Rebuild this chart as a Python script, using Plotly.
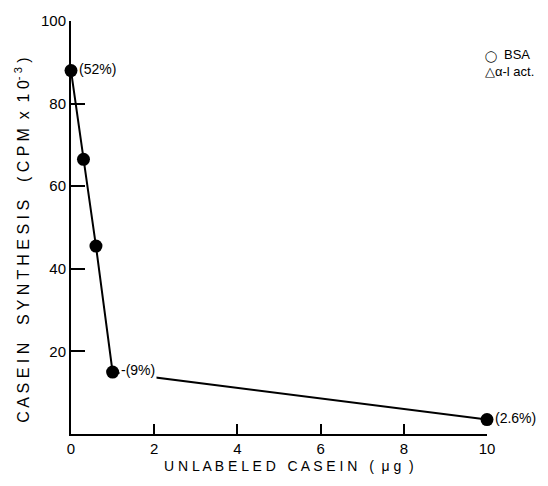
import plotly.graph_objects as go

x_ug = [0, 0.3, 0.6, 1.0, 10]
y_cpm = [88, 66.5, 45.5, 15, 3.5]
pct_labels = ["(52%)", "", "", "-(9%)", "(2.6%)"]
x_ticks = [0, 2, 4, 6, 8, 10]
y_ticks = [20, 40, 60, 80, 100]

FONT = "Liberation Sans, Arial, sans-serif"

fig = go.Figure()
fig.add_trace(go.Scatter(
    x=x_ug, y=y_cpm, mode="lines+markers",
    line=dict(color="black", width=2),
    marker=dict(color="black", size=13),
    cliponaxis=False, showlegend=False,
))

for xv, yv, t in zip(x_ug, y_cpm, pct_labels):
    if t:
        fig.add_annotation(x=xv, y=yv, text=t, showarrow=False, xanchor="left",
                           xshift=6, yshift=2,
                           bgcolor="white" if t == "-(9%)" else "rgba(0,0,0,0)",
                           font=dict(family=FONT, size=14, color="black"))

# key (symbols stacked at left, labels to the right)
fig.add_annotation(xref="paper", yref="paper", x=0.99, y=0.913, xanchor="left", yanchor="middle",
                   text="◯", showarrow=False, font=dict(family="DejaVu Sans", size=11, color="black"))
fig.add_annotation(xref="paper", yref="paper", x=1.035, y=0.918, xanchor="left", yanchor="middle",
                   text="BSA", showarrow=False, font=dict(family=FONT, size=13, color="black"))
fig.add_annotation(xref="paper", yref="paper", x=0.99, y=0.877, xanchor="left", yanchor="middle",
                   text="△α-l act.", showarrow=False, font=dict(family=FONT, size=13, color="black"))

# axis titles
fig.add_annotation(xref="paper", yref="paper", x=-0.118, y=0.47, xanchor="center", yanchor="middle",
                   textangle=-90, showarrow=False,
                   text="C A S E I N    S Y N T H E S I S    ( C P M  x  1 0<sup>- 3</sup> )",
                   font=dict(family=FONT, size=16, color="black"))
fig.add_annotation(xref="paper", yref="paper", x=0.524, y=-0.077, xanchor="center", yanchor="middle",
                   showarrow=False,
                   text="U N L A B E L E D   C A S E I N   (  μ g  )",
                   font=dict(family=FONT, size=14, color="black"))

fig.update_xaxes(range=[0, 10], tickvals=x_ticks, ticktext=[str(v) for v in x_ticks],
                 ticks="inside", ticklen=10, tickwidth=2, tickcolor="black",
                 showline=True, linecolor="black", linewidth=2, showgrid=False, zeroline=False,
                 tickfont=dict(family=FONT, size=15, color="black"))
fig.update_yaxes(range=[0, 100], tickvals=y_ticks, ticktext=[str(v) for v in y_ticks],
                 ticks="inside", ticklen=14, tickwidth=2, tickcolor="black",
                 showline=True, linecolor="black", linewidth=2, showgrid=False, zeroline=False,
                 tickfont=dict(family=FONT, size=15, color="black"))

fig.update_layout(width=548, height=486, margin=dict(l=71, r=61, t=21, b=52),
                  plot_bgcolor="white", paper_bgcolor="white")

fig.write_html("out.html")
